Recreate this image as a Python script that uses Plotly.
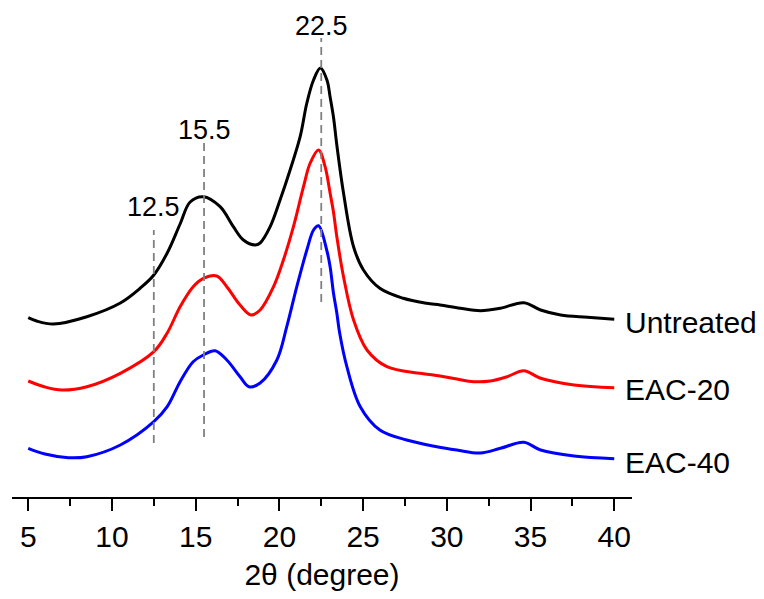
import plotly.graph_objects as go

# Data (intensity in arbitrary units, offset per series)
x_untreated = [5.0, 5.5, 6.5, 8.5, 10.5, 11.7, 12.5, 13.3, 14.07, 14.67, 15.46, 16.46, 17.25, 17.85,
               18.55, 18.85, 19.45, 20.04, 20.64, 21.24, 21.64, 22.04, 22.45, 22.84, 23.03, 23.23,
               23.43, 23.83, 24.43, 25.02, 26.0, 27.4, 28.8, 29.6, 30.8, 32.0, 33.2, 34.6, 35.6,
               36.8, 38.4, 40.0]
y_untreated = [179.3, 176, 173, 180.3, 194, 209, 222, 244, 273, 295, 300.3, 290.3, 270.3, 257,
               252, 254, 270.3, 297, 327, 360.3, 394, 417, 429, 417, 400, 380,
               352, 304, 250.3, 227, 208.7, 198.7, 193.7, 192, 188.7, 186.3, 188.7, 194.3, 187,
               182, 179.7, 177.7]

x_eac20 = [5.0, 6.0, 7.0, 8.5, 10.5, 12.5, 13.3, 14.07, 14.85, 15.46, 16.26, 16.86, 17.65, 18.31,
           18.85, 19.65, 20.24, 20.84, 21.44, 21.84, 22.34, 22.73, 23.03, 23.23, 23.43, 23.83,
           24.43, 25.23, 26.42, 28.41, 29.6, 30.6, 31.6, 32.6, 33.6, 34.6, 35.6, 37.6, 40.0]
y_eac20 = [116, 110, 107, 110.3, 123.7, 145.3, 164, 190.3, 210.3, 218.7, 221, 210.3, 192, 182,
           187, 210.3, 237, 270.3, 310.3, 334, 347, 330.3, 303.7, 285, 260.3, 220.3,
           177, 147, 130.3, 123.7, 121, 118, 115.3, 116, 120.3, 126.3, 118.7, 112, 109.3]

x_eac40 = [5.0, 6.0, 7.4, 8.5, 10.5, 12.5, 13.3, 14.07, 14.85, 15.46, 16.16, 16.86, 17.65, 18.19,
           18.85, 19.85, 20.44, 21.04, 21.64, 22.04, 22.34, 22.84, 23.03, 23.23, 23.43,
           23.6, 24.03, 24.83, 26.0, 27.6, 29.4, 30.6, 32.0, 33.2, 34.6, 35.6, 37.6, 40.0]
y_eac40 = [48.7, 43, 39.3, 40.3, 52, 75.3, 90.3, 115.3, 135.3, 142, 146.3, 137, 120.3, 110.3,
           114, 137, 170.3, 210.3, 247, 267, 271.3, 246, 230.3, 204, 184,
           164, 130.3, 90.3, 67, 57, 50.3, 47, 44, 48.7, 54.7, 47, 41, 38.3]

series_names = ["Untreated", "EAC-20", "EAC-40"]
series_colors = ["#000000", "#ff0000", "#0000ff"]
label_y = [175, 108, 35]

peak_positions = [12.5, 15.5, 22.5]
peak_labels = ["12.5", "15.5", "22.5"]
peak_line_bottom = [54, 60, 195]
peak_line_top = [267, 354, 459]
peak_label_y = [290, 367, 471]

xtick_vals = [5, 10, 15, 20, 25, 30, 35, 40]

fig = go.Figure()

for xs, ys, name, col in zip([x_untreated, x_eac20, x_eac40],
                             [y_untreated, y_eac20, y_eac40],
                             series_names, series_colors):
    fig.add_trace(go.Scatter(x=xs, y=ys, mode="lines", name=name,
                             line=dict(color=col, width=3, shape="spline", smoothing=1.0),
                             showlegend=False, hoverinfo="skip"))

for px, yb, yt in zip(peak_positions, peak_line_bottom, peak_line_top):
    fig.add_trace(go.Scatter(x=[px, px], y=[yb, yt], mode="lines",
                             line=dict(color="#808080", width=1.8, dash="8px,5px"),
                             showlegend=False, hoverinfo="skip"))

annotations = []
for px, lab, ly in zip(peak_positions, peak_labels, peak_label_y):
    annotations.append(dict(x=px, y=ly, xref="x", yref="y", text=lab, showarrow=False,
                            font=dict(size=27, color="#000000", family="Arial, Liberation Sans"),
                            xanchor="center", yanchor="middle"))
for name, ly in zip(series_names, label_y):
    annotations.append(dict(x=0.985, y=ly, xref="paper", yref="y", text=name, showarrow=False,
                            font=dict(size=30, color="#000000", family="Arial, Liberation Sans"),
                            xanchor="left", yanchor="middle"))

fig.update_layout(
    width=764, height=599,
    margin=dict(l=4, r=140, t=2, b=110, autoexpand=False),
    paper_bgcolor="white", plot_bgcolor="white",
    font=dict(family="Arial, Liberation Sans", color="#000000"),
    annotations=annotations,
    xaxis=dict(range=[4.03, 41.06], tickvals=xtick_vals, ticks="outside", ticklen=12,
               tickwidth=2, tickcolor="#000000", showline=True, linewidth=2.2,
               linecolor="#000000", showgrid=False, zeroline=False, automargin=False,
               tickfont=dict(size=30, family="Arial, Liberation Sans"),
               minor=dict(dtick=2.5, tick0=5, ticks="outside", ticklen=7, tickwidth=2,
                          tickcolor="#000000", showgrid=False),
               title=dict(text="2θ (degree)", font=dict(size=30, family="Arial, Liberation Sans"),
                          standoff=12)),
    yaxis=dict(range=[0, 487], visible=False, showgrid=False, zeroline=False),
)

fig.write_html("out.html")
